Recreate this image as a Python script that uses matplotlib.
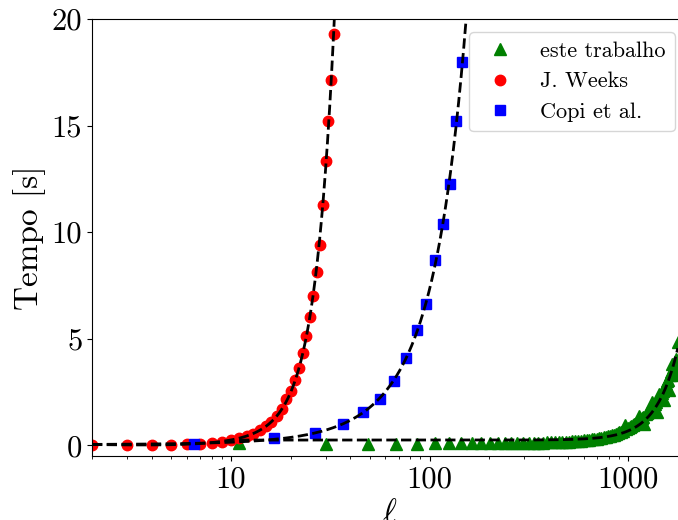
import numpy as np
import matplotlib
matplotlib.use("Agg")
import matplotlib.pyplot as plt

plt.rcParams['font.family'] = 'serif'
plt.rcParams['font.serif'] = ['cmr10']
plt.rcParams['mathtext.fontset'] = 'cm'
plt.rcParams['axes.unicode_minus'] = False
plt.rcParams['axes.formatter.use_mathtext'] = True

# J. Weeks
l_weeks = [2, 3, 4, 5, 6, 7, 8, 9, 10, 11, 12, 13, 14, 15, 16, 17,
           18, 19, 20, 21, 22, 23, 24, 25, 26, 27, 28, 29, 30, 31, 32, 33]
t_weeks = [0.03, 0.03, 0.03, 0.03, 0.08, 0.08, 0.13, 0.17, 0.23, 0.34, 0.42, 0.55,
           0.70, 0.89, 1.09, 1.36, 1.69, 2.16, 2.54, 3.05, 3.63, 4.33, 5.12, 6.00,
           7.03, 8.12, 9.39, 11.27, 13.35, 15.21, 17.14, 19.31]

# Copi et al.
l_copi = [6.5, 16.5, 26.5, 36.5, 46.5, 56.5, 66.5, 76.5, 86.5, 96.5,
          106.5, 116.5, 126.5, 136.5, 146.5]
t_copi = [0.05, 0.34, 0.60, 1.02, 1.55, 2.19, 3.04, 4.12, 5.40, 6.65,
          8.69, 10.39, 12.24, 15.23, 17.97]

# este trabalho
l_este = [11, 30, 49, 68, 87, 106, 125, 144, 163, 182, 201, 220, 239, 258, 277, 296,
          315, 334, 353, 372, 391, 410, 429, 448, 467, 486, 505, 524, 543, 562, 581,
          600, 619, 638, 657, 676, 695, 714, 733, 752, 771, 790, 809, 828, 847, 866,
          885, 904, 923, 942, 961, 980, 999, 1018, 1037, 1056, 1075, 1094, 1113, 1132,
          1151, 1170, 1189, 1208, 1227, 1246, 1265, 1284, 1303, 1322, 1341, 1360, 1379,
          1398, 1417, 1436, 1455, 1474, 1493, 1512, 1531, 1550, 1569, 1588, 1607, 1626,
          1645, 1664, 1683, 1702, 1721, 1740, 1759, 1778]
t_este = [0.09, 0.08, 0.08, 0.08, 0.08, 0.09, 0.09, 0.09, 0.09, 0.10, 0.10, 0.10,
          0.10, 0.11, 0.11, 0.11, 0.12, 0.12, 0.13, 0.13, 0.14, 0.14, 0.15, 0.16,
          0.17, 0.17, 0.18, 0.19, 0.20, 0.21, 0.22, 0.24, 0.25, 0.27, 0.28, 0.30,
          0.32, 0.34, 0.36, 0.38, 0.41, 0.43, 0.46, 0.48, 0.51, 0.54, 0.58, 0.61,
          0.65, 0.69, 0.95, 0.77, 0.81, 0.86, 0.90, 0.95, 1.00, 1.05, 1.10, 1.40,
          1.21, 1.27, 1.33, 1.02, 1.45, 1.51, 1.58, 1.65, 1.72, 2.05, 1.87, 1.95,
          2.03, 1.58, 2.20, 2.42, 2.38, 2.47, 2.57, 2.12, 2.77, 2.88, 3.00, 3.08,
          2.62, 3.30, 3.42, 3.83, 3.65, 3.30, 3.90, 4.05, 3.40, 4.85]


def ajuste_potencia(l, t, n, lmin, lmax):
    # t = a + b*l^n por minimos quadrados
    l = np.asarray(l, float)
    A = np.vstack([np.ones_like(l), l ** n]).T
    (a, b), *_ = np.linalg.lstsq(A, np.asarray(t, float), rcond=None)
    x = np.linspace(lmin, lmax, 500)
    return x, a + b * x ** n


fig = plt.figure(figsize=(6.78, 5.2), dpi=100)
ax = fig.add_axes([0.1357, 0.123, 0.8790, 0.8405])

ax.plot(l_este, t_este, '^', color='green', ms=8.5, label='este trabalho')
ax.plot(l_weeks, t_weeks, 'o', color='red', ms=7.5, label='J. Weeks')
ax.plot(l_copi, t_copi, 's', color='blue', ms=7, label='Copi et al.')

# ajustes
lw = np.linspace(2, 40, 400)
ax.plot(lw, np.polyval(np.polyfit(l_weeks, t_weeks, 4), lw), 'k--', lw=2)
lc = np.linspace(2, 170, 400)
ax.plot(lc, np.polyval(np.polyfit(l_copi, t_copi, 4), lc), 'k--', lw=2)
xe, ye = ajuste_potencia(l_este, t_este, 4, 11, 1778)
ax.plot(xe, ye, 'k--', lw=2)

ax.set_xscale('log')
ax.set_xlim(2, 2000)
ax.set_ylim(-0.5, 20)
ax.set_xticks([10, 100, 1000], ['10', '100', '1000'])
ax.set_yticks([0, 5, 10, 15, 20], ['0', '5', '10', '15', '20'])
ax.tick_params(labelsize=22)
ax.set_xlabel(r'$\ell$', fontsize=24)
ax.set_ylabel('Tempo [s]', fontsize=24)
ax.legend(loc='upper right', fontsize=16, numpoints=1, borderpad=0.4,
          handletextpad=0.8, borderaxespad=0.6)

plt.savefig('out.png', dpi=100)
